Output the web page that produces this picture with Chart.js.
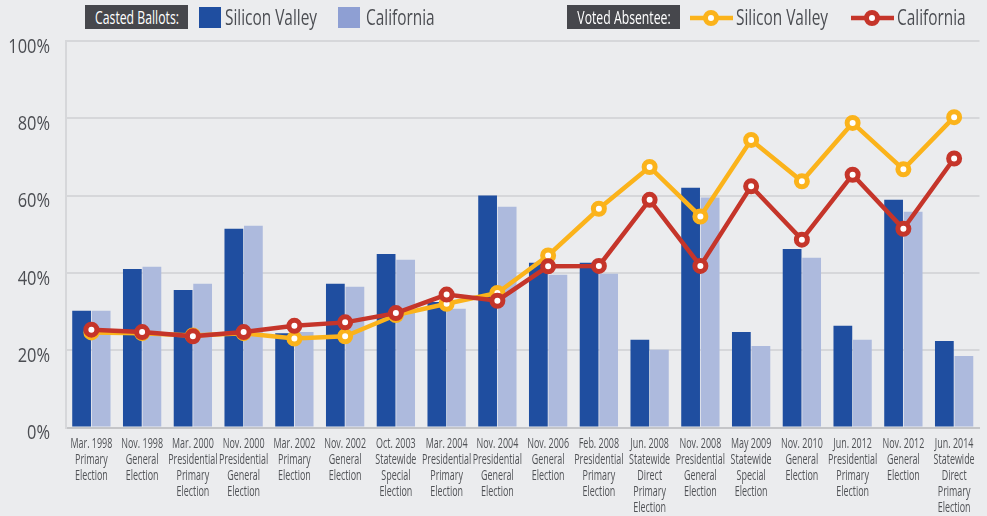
<!DOCTYPE html>
<html>
<head>
<meta charset="utf-8">
<script src="https://cdn.jsdelivr.net/npm/chart.js@4/dist/chart.umd.min.js"></script>
<style>
  html, body { margin: 0; padding: 0; background: #ebecee; overflow: hidden; width: 987px; height: 516px; }
  #wrap { position: relative; width: 987px; height: 516px; overflow: hidden; }
  canvas { position: absolute; left: 0; top: 0; }
  .leg { position: absolute; left: 0; top: 0; font-family: 'Open Sans', sans-serif; color: #4b4d52; white-space: nowrap; }
  .tag { position: absolute; top: 5px; height: 24px; background: #46474c; }
  .tag span { position: absolute; left: 50%; top: 0; line-height: 24px; font-size: 18px; color: #fff; transform: translateX(-50%) scaleX(0.68); }
  .sq { position: absolute; top: 7px; width: 22px; height: 21px; }
  .txt { position: absolute; top: 1px; font-size: 22px; line-height: 30px; transform: scaleX(0.7); transform-origin: left center; }
  .ico { position: absolute; top: 8px; }
</style>
</head>
<body>
<div id="wrap">
  <canvas id="c" width="990" height="516"></canvas>
  <div class="leg">
    <div class="tag" style="left:85px;width:103px;"><span>Casted Ballots:</span></div>
    <div class="sq" style="left:199px;background:#1f4ea0;"></div>
    <div class="txt" style="left:225px;">Silicon Valley</div>
    <div class="sq" style="left:338px;background:#8e9fd3;"></div>
    <div class="txt" style="left:366px;">California</div>

    <div class="tag" style="left:567px;width:113px;"><span>Voted Absentee:</span></div>
    <svg class="ico" style="left:690px;" width="43" height="20" viewBox="0 0 43 20">
      <line x1="0" y1="10" x2="43" y2="10" stroke="#fbb31b" stroke-width="4.5"/>
      <circle cx="21" cy="10" r="5.5" fill="#fff" stroke="#fbb31b" stroke-width="5"/>
    </svg>
    <div class="txt" style="left:736px;">Silicon Valley</div>
    <svg class="ico" style="left:851px;" width="43" height="20" viewBox="0 0 43 20">
      <line x1="0" y1="10" x2="43" y2="10" stroke="#c5352a" stroke-width="4.5"/>
      <circle cx="21" cy="10" r="5.5" fill="#fff" stroke="#c5352a" stroke-width="5"/>
    </svg>
    <div class="txt" style="left:897px;">California</div>
  </div>
</div>
<script>
// Election dates and types, one line per entry
const elections = [
  ["Mar. 1998", "Primary", "Election"],
  ["Nov. 1998", "General", "Election"],
  ["Mar. 2000", "Presidential", "Primary", "Election"],
  ["Nov. 2000", "Presidential", "General", "Election"],
  ["Mar. 2002", "Primary", "Election"],
  ["Nov. 2002", "General", "Election"],
  ["Oct. 2003", "Statewide", "Special", "Election"],
  ["Mar. 2004", "Presidential", "Primary", "Election"],
  ["Nov. 2004", "Presidential", "General", "Election"],
  ["Nov. 2006", "General", "Election"],
  ["Feb. 2008", "Presidential", "Primary", "Election"],
  ["Jun. 2008", "Statewide", "Direct", "Primary", "Election"],
  ["Nov. 2008", "Presidential", "General", "Election"],
  ["May 2009", "Statewide", "Special", "Election"],
  ["Nov. 2010", "General", "Election"],
  ["Jun. 2012", "Presidential", "Primary", "Election"],
  ["Nov. 2012", "General", "Election"],
  ["Jun. 2014", "Statewide", "Direct", "Primary", "Election"]
];

// Casted ballots (% of eligible)
const castedSiliconValley = [30.2, 41.0, 35.6, 51.4, 24.4, 37.2, 44.9, 32.5, 60.0, 42.6, 42.6, 22.7, 62.0, 24.7, 46.2, 26.3, 58.9, 22.4];
const castedCalifornia    = [30.2, 41.6, 37.2, 52.2, 24.7, 36.4, 43.4, 30.7, 57.1, 39.5, 39.8, 20.1, 59.5, 21.1, 43.9, 22.7, 55.8, 18.5];

// Share of ballots cast absentee (%)
const absenteeSiliconValley = [24.6, 24.4, 23.8, 24.4, 23.0, 23.6, 29.1, 32.0, 34.8, 44.5, 56.6, 67.4, 54.6, 74.4, 63.7, 78.8, 66.8, 80.3];
const absenteeCalifornia    = [25.3, 24.7, 23.6, 24.7, 26.3, 27.2, 29.6, 34.4, 32.8, 41.7, 41.8, 58.9, 41.8, 62.4, 48.6, 65.4, 51.4, 69.6];

const yTicks = [0, 20, 40, 60, 80, 100];

const FONT = "'Open Sans', sans-serif";
const BLUE = '#1f4ea0', LIGHT = '#adbadd', YELLOW = '#fbb31b', RED = '#c5352a';

// Draw an axis' tick labels horizontally squeezed, for a condensed look
function condenseLabels(scale, sx) {
  const H = Chart.helpers;
  if (!H || !H.renderText || scale._condensed) return;
  scale._condensed = true;
  scale.drawLabels = function (chartArea) {
    const ctx = this.ctx;
    const items = this.getLabelItems(chartArea);
    for (const item of items) {
      const opts = Object.assign({}, item.options);
      const [tx, ty] = opts.translation;
      delete opts.translation;
      ctx.save();
      ctx.translate(tx, ty);
      ctx.scale(sx, 1);
      H.renderText(ctx, item.label, 0, item.textOffset, item.font, opts);
      ctx.restore();
    }
  };
}

function lineSet(label, data, color, order) {
  return {
    type: 'line', label, data, order,
    borderColor: color, borderWidth: 4.5, tension: 0,
    pointRadius: 5.5, pointBorderWidth: 5, pointBackgroundColor: '#ffffff', pointBorderColor: color,
    pointHoverRadius: 5.5
  };
}

new Chart(document.getElementById('c'), {
  data: {
    labels: elections,
    datasets: [
      lineSet('Voted Absentee: California', absenteeCalifornia, RED, 0),
      lineSet('Voted Absentee: Silicon Valley', absenteeSiliconValley, YELLOW, 1),
      { type: 'bar', label: 'Casted Ballots: Silicon Valley', data: castedSiliconValley, backgroundColor: BLUE,
        order: 2, categoryPercentage: 0.77, barPercentage: 0.96 },
      { type: 'bar', label: 'Casted Ballots: California', data: castedCalifornia, backgroundColor: LIGHT,
        order: 3, categoryPercentage: 0.77, barPercentage: 0.96 }
    ]
  },
  options: {
    responsive: false,
    animation: false,
    devicePixelRatio: 1,
    layout: { padding: { top: 41, left: 0, right: 0, bottom: 0 } },
    plugins: { legend: { display: false }, tooltip: { enabled: false } },
    scales: {
      x: {
        grid: { display: false },
        border: { display: true, color: '#c4c5c8', width: 2 },
        ticks: {
          autoSkip: false, maxRotation: 0, minRotation: 0, padding: 1,
          color: '#505256', font: { family: FONT, size: 14, lineHeight: '15.8px' }
        },
        afterFit: (s) => { s.height = 88.5; },
        afterUpdate: (s) => condenseLabels(s, 0.64)
      },
      y: {
        min: 0, max: 100,
        afterBuildTicks: (s) => { s.ticks = yTicks.map(v => ({ value: v })); },
        grid: { color: '#d6d7da', lineWidth: 2, drawTicks: false },
        border: { display: true, color: '#d6d7da', width: 2 },
        ticks: {
          padding: 16, labelOffset: 6, color: '#4b4d52',
          font: { family: FONT, size: 20 },
          callback: (v) => v + '%'
        },
        afterFit: (s) => { s.width = 66; },
        afterUpdate: (s) => condenseLabels(s, 0.82)
      }
    }
  }
});
</script>
</body>
</html>
